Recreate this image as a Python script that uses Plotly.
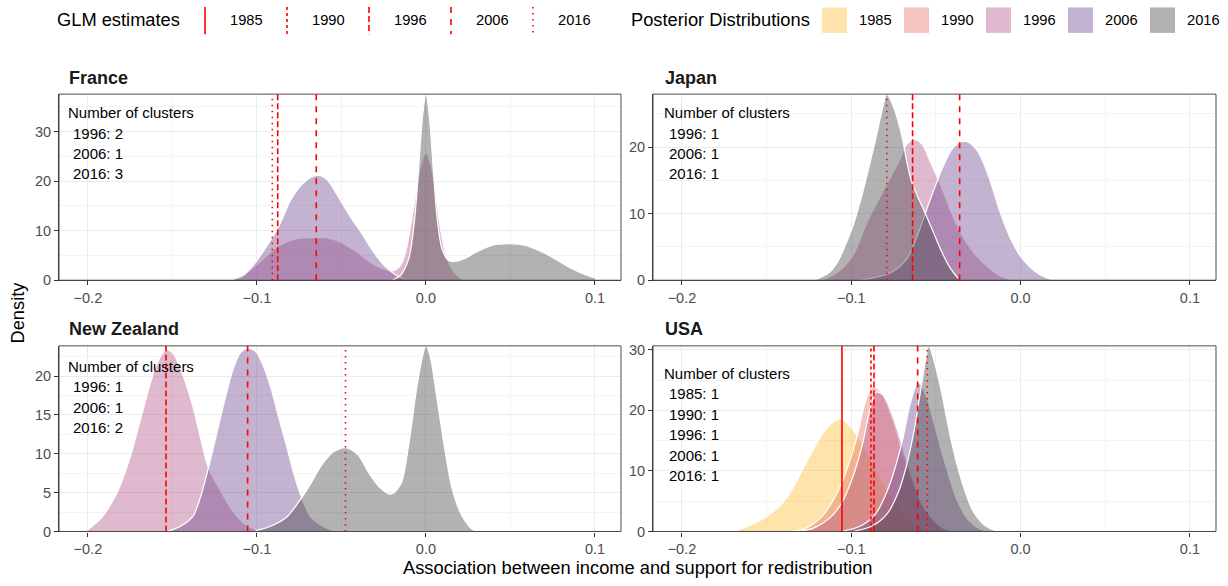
import plotly.graph_objects as go

W, H = 1228, 586

# ---------------- data ----------------
YEARS = ["1985", "1990", "1996", "2006", "2016"]
FILL_COLORS = ["rgba(252,185,43,0.4)", "rgba(228,108,93,0.4)", "rgba(175,83,135,0.4)",
               "rgba(105,65,138,0.4)", "rgba(63,63,63,0.4)"]
GLM_DASH = ["solid", "3px,3px", "6px,3px", "6px,6px", "1.5px,4.5px"]

X_TICKS = [-0.2, -0.1, 0.0, 0.1]

# France posterior densities
fr_1996_x = [-0.1149, -0.1056, -0.0963, -0.0870, -0.0777, -0.0684, -0.0591, -0.0498, -0.0405, -0.0312,
             -0.0242, -0.0195, -0.0160, -0.0126, -0.0091, -0.0056, -0.0028, 0.0, 0.0028, 0.0056,
             0.0084, 0.0119, 0.0165, 0.0212, 0.0247]
fr_1996_y = [0.2, 1.7, 4.3, 7.0, 8.3, 8.6, 8.6, 7.6, 5.6, 3.3,
             2.2, 1.9, 2.6, 5.0, 10.9, 18.2, 23.5, 25.6, 23.5, 18.2,
             10.9, 5.0, 1.7, 0.3, 0.0]
fr_2006_x = [-0.1160, -0.1079, -0.1009, -0.0940, -0.0870, -0.0800, -0.0730, -0.0649, -0.0591, -0.0521,
             -0.0451, -0.0381, -0.0312, -0.0242, -0.0172, -0.0126]
fr_2006_y = [0.0, 1.0, 3.6, 7.0, 10.9, 16.2, 19.5, 21.2, 20.5, 17.0,
             13.0, 9.5, 5.8, 2.8, 0.9, 0.2]
fr_2016_x = [-0.0195, -0.0149, -0.0102, -0.0067, -0.0044, -0.0021, 0.0, 0.0021, 0.0044, 0.0067,
             0.0095, 0.0130, 0.0165, 0.0223, 0.0293, 0.0386, 0.0491, 0.0595, 0.0712, 0.0828,
             0.0944, 0.0998]
fr_2016_y = [0.1, 1.0, 4.3, 12.3, 22.2, 32.8, 37.6, 32.8, 22.2, 12.3,
             6.3, 4.1, 3.8, 4.3, 5.6, 7.0, 7.4, 7.0, 5.3, 3.0,
             1.1, 0.5]

# Japan posterior densities
jp_1996_x = [-0.1173, -0.1082, -0.0991, -0.0900, -0.0809, -0.0718, -0.0672, -0.0626, -0.0581, -0.0535,
             -0.0467, -0.0399, -0.0330, -0.0262, -0.0194, -0.0125, -0.0057]
jp_1996_y = [0.0, 1.2, 3.7, 9.1, 13.5, 17.9, 20.4, 21.1, 20.4, 17.9,
             14.0, 9.6, 6.1, 3.7, 2.0, 0.7, 0.1]
jp_2006_x = [-0.0945, -0.0763, -0.0672, -0.0604, -0.0535, -0.0467, -0.0399, -0.0330, -0.0262, -0.0194,
             -0.0125, -0.0057, 0.0011, 0.0103, 0.0171]
jp_2006_y = [0.0, 1.2, 3.2, 7.1, 12.0, 16.5, 19.9, 20.9, 19.7, 16.0,
             10.5, 6.1, 3.2, 1.0, 0.2]
jp_2016_x = [-0.1219, -0.1128, -0.1082, -0.1036, -0.0991, -0.0945, -0.0900, -0.0854, -0.0820, -0.0790,
             -0.0750, -0.0700, -0.0670, -0.0640, -0.0580, -0.0520, -0.0470, -0.0420, -0.0370]
jp_2016_y = [0.0, 1.2, 2.7, 5.2, 8.1, 12.0, 16.5, 21.4, 25.3, 27.9,
             26.0, 21.5, 17.5, 14.5, 11.0, 7.5, 4.5, 2.0, 0.3]

# New Zealand posterior densities
nz_1996_x = [-0.2000, -0.1914, -0.1821, -0.1751, -0.1682, -0.1612, -0.1566, -0.1535, -0.1496, -0.1449,
             -0.1380, -0.1333, -0.1287, -0.1217, -0.1148, -0.1078, -0.1008, -0.0938]
nz_1996_y = [0.25, 1.9, 5.3, 9.5, 15.0, 20.4, 22.7, 23.4, 22.9, 20.8,
             16.2, 12.0, 8.2, 5.3, 2.8, 1.1, 0.25, 0.0]
nz_2006_x = [-0.1531, -0.1449, -0.1380, -0.1333, -0.1287, -0.1240, -0.1194, -0.1148, -0.1101, -0.1055,
             -0.1008, -0.0962, -0.0915, -0.0869, -0.0822, -0.0776, -0.0729, -0.0683, -0.0613, -0.0544]
nz_2006_y = [0.0, 0.7, 1.9, 4.5, 8.2, 12.4, 16.6, 20.4, 22.9, 23.6,
             23.2, 21.3, 18.3, 14.5, 10.8, 7.0, 4.0, 1.9, 0.7, 0.1]
nz_2016_x = [-0.1008, -0.0915, -0.0822, -0.0753, -0.0683, -0.0613, -0.0544, -0.0474, -0.0404, -0.0334,
             -0.0265, -0.0207, -0.0149, -0.0102, -0.0056, -0.0021, 0.0, 0.0026, 0.0060, 0.0107,
             0.0153, 0.0200, 0.0258, 0.0293]
nz_2016_y = [0.1, 0.7, 1.9, 3.8, 6.1, 8.7, 10.3, 10.8, 9.9, 7.4,
             5.5, 4.8, 6.1, 11.2, 18.3, 22.5, 23.9, 22.5, 17.9, 11.2,
             5.7, 2.6, 0.6, 0.0]

# USA posterior densities
us_1985_x = [-0.1697, -0.1606, -0.1515, -0.1446, -0.1378, -0.1310, -0.1241, -0.1173, -0.1105, -0.1059,
             -0.1014, -0.0968, -0.0900, -0.0831, -0.0763, -0.0695, -0.0626, -0.0558]
us_1985_y = [0.0, 0.9, 2.2, 3.6, 5.7, 9.0, 12.7, 16.0, 18.1, 18.6,
             17.6, 16.0, 12.7, 9.0, 5.7, 3.0, 1.1, 0.2]
us_1990_x = [-0.1355, -0.1264, -0.1173, -0.1105, -0.1036, -0.0968, -0.0923, -0.0877, -0.0831, -0.0786,
             -0.0740, -0.0695, -0.0649, -0.0604, -0.0535, -0.0467, -0.0399]
us_1990_y = [0.0, 0.6, 2.5, 5.2, 9.5, 15.4, 20.8, 23.8, 23.3, 20.8,
             17.1, 12.7, 9.0, 5.7, 2.5, 0.6, 0.0]
us_1996_x = [-0.1310, -0.1219, -0.1128, -0.1059, -0.0991, -0.0934, -0.0888, -0.0854, -0.0809, -0.0763,
             -0.0718, -0.0672, -0.0626, -0.0581, -0.0513, -0.0444, -0.0376]
us_1996_y = [0.0, 0.6, 2.2, 4.6, 9.0, 14.4, 20.3, 23.0, 22.4, 19.7,
             16.0, 11.7, 7.9, 4.6, 1.9, 0.4, 0.0]
us_2006_x = [-0.1059, -0.0945, -0.0854, -0.0786, -0.0740, -0.0695, -0.0649, -0.0604, -0.0558, -0.0513,
             -0.0467, -0.0421, -0.0376, -0.0308, -0.0239, -0.0171]
us_2006_y = [0.0, 0.9, 3.0, 6.8, 10.6, 15.4, 21.4, 24.6, 22.4, 18.1,
             13.3, 9.0, 5.2, 1.9, 0.4, 0.0]
us_2016_x = [-0.0991, -0.0877, -0.0786, -0.0718, -0.0672, -0.0626, -0.0592, -0.0558, -0.0542, -0.0513,
             -0.0467, -0.0421, -0.0376, -0.0330, -0.0285, -0.0216, -0.0148]
us_2016_y = [0.0, 0.9, 3.0, 6.8, 11.1, 17.1, 23.0, 28.9, 30.65, 28.4,
             23.0, 16.5, 11.1, 6.8, 3.6, 1.1, 0.1]

# GLM estimates
fr_glm_years = ["1996", "2006", "2016"]
fr_glm_vals = [-0.0877, -0.0649, -0.0909]
jp_glm_years = ["1996", "2006", "2016"]
jp_glm_vals = [-0.0638, -0.0360, -0.0790]
nz_glm_years = ["1996", "2006", "2016"]
nz_glm_vals = [-0.1538, -0.1055, -0.0476]
us_glm_years = ["1985", "1990", "1996", "2006", "2016"]
us_glm_vals = [-0.1055, -0.0884, -0.0866, -0.0608, -0.0551]

# number of clusters
fr_clusters = [2, 1, 3]
jp_clusters = [1, 1, 1]
nz_clusters = [1, 1, 2]
us_clusters = [1, 1, 1, 1, 1]

# ---------------- layout helpers ----------------
FONT = "Liberation Sans, Arial, sans-serif"


def px_x(p):
    return p / W


def px_y(p):
    return 1 - p / H


X_RANGE = [-0.2171, 0.1154]
XD_L = [px_x(59), px_x(621)]
XD_R = [px_x(653), px_x(1216)]
YD_T = [px_y(282), px_y(92)]
YD_B = [px_y(538.5), px_y(349)]

panels = [
    dict(title="France", ax="", xd=XD_L, yd=YD_T, ymax=37.6, dtick=10,
         curves=[("1996", fr_1996_x, fr_1996_y), ("2006", fr_2006_x, fr_2006_y), ("2016", fr_2016_x, fr_2016_y)],
         glm_years=fr_glm_years, glm_vals=fr_glm_vals, clusters=fr_clusters,
         title_px=(67, 76), text_px=(66, 111, 71), text_dy=20.8),
    dict(title="Japan", ax="2", xd=XD_R, yd=YD_T, ymax=27.95, dtick=10,
         curves=[("1996", jp_1996_x, jp_1996_y), ("2006", jp_2006_x, jp_2006_y), ("2016", jp_2016_x, jp_2016_y)],
         glm_years=jp_glm_years, glm_vals=jp_glm_vals, clusters=jp_clusters,
         title_px=(663, 76), text_px=(662, 111, 667), text_dy=20.8),
    dict(title="New Zealand", ax="3", xd=XD_L, yd=YD_B, ymax=23.9, dtick=5,
         curves=[("1996", nz_1996_x, nz_1996_y), ("2006", nz_2006_x, nz_2006_y), ("2016", nz_2016_x, nz_2016_y)],
         glm_years=nz_glm_years, glm_vals=nz_glm_vals, clusters=nz_clusters,
         title_px=(67, 332), text_px=(66, 370, 71), text_dy=20.8),
    dict(title="USA", ax="4", xd=XD_R, yd=YD_B, ymax=30.65, dtick=10,
         curves=[("1985", us_1985_x, us_1985_y), ("1990", us_1990_x, us_1990_y), ("1996", us_1996_x, us_1996_y),
                 ("2006", us_2006_x, us_2006_y), ("2016", us_2016_x, us_2016_y)],
         glm_years=us_glm_years, glm_vals=us_glm_vals, clusters=us_clusters,
         title_px=(663, 332), text_px=(662, 377, 667), text_dy=20.9),
]

fig = go.Figure()
shapes = []
annotations = []
layout_axes = {}

for p in panels:
    xa = "x" + p["ax"]
    ya = "y" + p["ax"]
    for year, xs, ys in p["curves"]:
        i = YEARS.index(year)
        fig.add_trace(go.Scatter(
            x=xs, y=ys, xaxis=xa, yaxis=ya, mode="lines", fill="tozeroy",
            fillcolor=FILL_COLORS[i], line=dict(color="white", width=1.2, shape="spline", smoothing=0.9),
            showlegend=False, hoverinfo="skip"))
    layout_axes["xaxis" + p["ax"]] = dict(
        domain=p["xd"], anchor=ya, range=X_RANGE, tickvals=X_TICKS, tickformat=".1f",
        showgrid=True, gridcolor="#EBEBEB", gridwidth=1, zeroline=False,
        minor=dict(dtick=0.05, tick0=0, showgrid=True, gridcolor="#F4F4F4", gridwidth=1, ticks=""),
        showline=True, linecolor="#333333", linewidth=1.1,
        ticks="outside", ticklen=4, tickcolor="#333333", tickwidth=1,
        tickfont=dict(family=FONT, size=14.5, color="#4D4D4D"))
    layout_axes["yaxis" + p["ax"]] = dict(
        domain=p["yd"], anchor=xa, range=[0, p["ymax"]], dtick=p["dtick"], tick0=0,
        showgrid=True, gridcolor="#EBEBEB", gridwidth=1, zeroline=False,
        minor=dict(dtick=p["dtick"] / 2, tick0=0, showgrid=True, gridcolor="#F4F4F4", gridwidth=1, ticks=""),
        showline=True, linecolor="#333333", linewidth=1.1,
        ticks="outside", ticklen=4, tickcolor="#333333", tickwidth=1,
        tickfont=dict(family=FONT, size=14.5, color="#4D4D4D"))
    # panel border
    shapes.append(dict(type="rect", xref=xa + " domain", yref=ya + " domain", x0=0, x1=1, y0=0, y1=1,
                       line=dict(color="#4D4D4D", width=1), layer="above"))
    # GLM vertical lines
    for year, v in zip(p["glm_years"], p["glm_vals"]):
        i = YEARS.index(year)
        shapes.append(dict(type="line", xref=xa, yref=ya + " domain", x0=v, x1=v, y0=0, y1=1,
                           line=dict(color="#FF0000", width=1.6, dash=GLM_DASH[i]), layer="above"))
    # panel title
    annotations.append(dict(text="<b>" + p["title"] + "</b>", xref="paper", yref="paper",
                            x=px_x(p["title_px"][0]), y=px_y(p["title_px"][1]), xanchor="left", yanchor="middle",
                            showarrow=False, font=dict(family=FONT, size=18, color="#1A1A1A")))
    # clusters text
    tx, ty, tx2 = p["text_px"]
    annotations.append(dict(text="Number of clusters", xref="paper", yref="paper",
                            x=px_x(tx), y=px_y(ty), xanchor="left", yanchor="middle",
                            showarrow=False, font=dict(family=FONT, size=15, color="black")))
    for k, (year, c) in enumerate(zip(p["glm_years"], p["clusters"])):
        annotations.append(dict(text=f"{year}: {c}", xref="paper", yref="paper",
                                x=px_x(tx2), y=px_y(ty + (k + 1) * p["text_dy"]), xanchor="left",
                                yanchor="middle", showarrow=False,
                                font=dict(family=FONT, size=15, color="black")))

# axis titles
annotations.append(dict(text="Density", xref="paper", yref="paper", x=px_x(18), y=px_y(315),
                        xanchor="center", yanchor="middle", textangle=-90, showarrow=False,
                        font=dict(family=FONT, size=18.3, color="black")))
annotations.append(dict(text="Association between income and support for redistribution", xref="paper",
                        yref="paper", x=px_x(637.5), y=px_y(575), xanchor="center", yanchor="middle",
                        showarrow=False, font=dict(family=FONT, size=18.3, color="black")))

# ---------------- manual legends ----------------
LEG_Y = 16
annotations.append(dict(text="GLM estimates", xref="paper", yref="paper", x=px_x(55), y=px_y(LEG_Y),
                        xanchor="left", yanchor="middle", showarrow=False,
                        font=dict(family=FONT, size=18.3, color="black")))
for i, year in enumerate(YEARS):
    lx = 205 + 82 * i
    shapes.append(dict(type="line", xref="paper", yref="paper", x0=px_x(lx), x1=px_x(lx),
                       y0=px_y(3), y1=px_y(31), line=dict(color="#FF0000", width=1.6, dash=GLM_DASH[i])))
    annotations.append(dict(text=year, xref="paper", yref="paper", x=px_x(lx + 41), y=px_y(LEG_Y),
                            xanchor="center", yanchor="middle", showarrow=False,
                            font=dict(family=FONT, size=14.7, color="black")))

annotations.append(dict(text="Posterior Distributions", xref="paper", yref="paper", x=px_x(629),
                        y=px_y(LEG_Y), xanchor="left", yanchor="middle", showarrow=False,
                        font=dict(family=FONT, size=18.3, color="black")))
for i, year in enumerate(YEARS):
    bx = 822 + 82 * i
    shapes.append(dict(type="rect", xref="paper", yref="paper", x0=px_x(bx), x1=px_x(bx + 25),
                       y0=px_y(3.5), y1=px_y(29.5), line=dict(width=0), fillcolor=FILL_COLORS[i]))
    annotations.append(dict(text=year, xref="paper", yref="paper", x=px_x(bx + 12.5 + 41), y=px_y(LEG_Y),
                            xanchor="center", yanchor="middle", showarrow=False,
                            font=dict(family=FONT, size=14.7, color="black")))

fig.update_layout(
    width=W, height=H, margin=dict(l=0, r=0, t=0, b=0),
    paper_bgcolor="white", plot_bgcolor="white",
    showlegend=False, shapes=shapes, annotations=annotations,
    font=dict(family=FONT, color="black"),
    **layout_axes)

fig.write_html("out.html")
